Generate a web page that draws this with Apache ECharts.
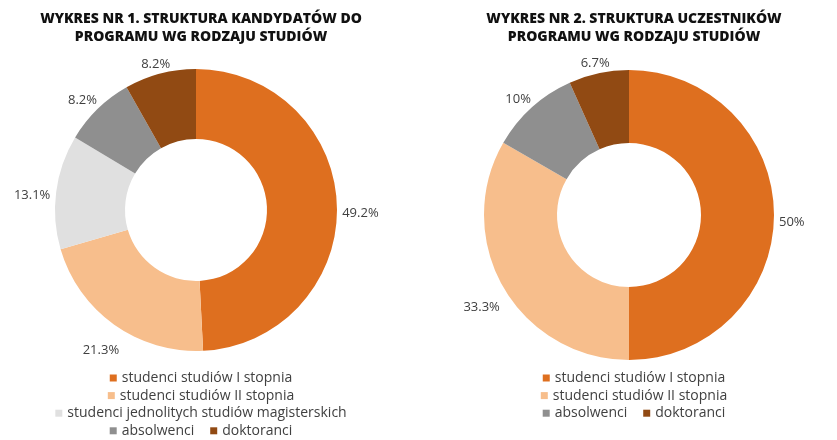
<!DOCTYPE html>
<html>
<head>
<meta charset="utf-8">
<script src="https://cdn.jsdelivr.net/npm/echarts@6/dist/echarts.min.js"></script>
<style>
  body { margin: 0; width: 837px; height: 440px; overflow: hidden; background: #fff; position: relative; }
  #c1 { position: absolute; left: 0; top: 0; width: 402px; height: 440px; }
  #c2 { position: absolute; left: 431px; top: 0; width: 406px; height: 440px; }
</style>
</head>
<body>
<div id="c1"></div>
<div id="c2"></div>
<script>
// wykres 1 - kandydaci
var names1 = ['studenci studiów I stopnia', 'studenci studiów II stopnia', 'studenci jednolitych studiów magisterskich', 'absolwenci', 'doktoranci'];
var values1 = [49.2, 21.3, 13.1, 8.2, 8.2];
var colors1 = ['#DE6F1F', '#F7BE8C', '#E0E0E0', '#8F8F8F', '#914A13'];

// wykres 2 - uczestnicy
var names2 = ['studenci studiów I stopnia', 'studenci studiów II stopnia', 'absolwenci', 'doktoranci'];
var values2 = [50, 33.3, 10, 6.7];
var colors2 = ['#DE6F1F', '#F7BE8C', '#8F8F8F', '#914A13'];

var FONT = '"Open Sans", sans-serif';

function legendRow(data, top) {
  return {
    data: data,
    top: top,
    left: 'center',
    icon: 'rect',
    itemWidth: 7,
    itemHeight: 7,
    itemGap: 16,
    selectedMode: false,
    textStyle: { fontFamily: FONT, fontSize: 14, color: '#404040' }
  };
}

// etykiety jak w Excelu: ramka etykiety tuż za krawędzią pierścienia, w kierunku środka wycinka
function excelLabels(values, center, outerR) {
  var total = values.reduce(function (a, b) { return a + b; }, 0);
  var mids = [], acc = 0;
  values.forEach(function (v) { mids.push((acc + v / 2) / total * Math.PI * 2); acc += v; });
  return function (params) {
    var t = mids[params.dataIndex];
    var dx = Math.sin(t), dy = -Math.cos(t);
    var w = params.labelRect.width;
    var d = outerR + 5 + (w / 2) * Math.abs(dx) + 9 * Math.abs(dy);
    return {
      x: center[0] + dx * d,
      y: center[1] + dy * d + 7,
      align: 'center',
      verticalAlign: 'middle'
    };
  };
}

function pieOption(title, names, values, colors, center, radius, rows) {
  return {
    animation: false,
    title: {
      text: title,
      left: 'center',
      top: 5,
      textStyle: { fontFamily: FONT, fontSize: 14, fontWeight: 800, color: '#111', lineHeight: 18 }
    },
    legend: rows.map(function (r, i) { return legendRow(r, 366 + i * 17.6); }),
    series: [{
      type: 'pie',
      center: center,
      radius: radius,
      startAngle: 90,
      clockwise: true,
      color: colors,
      data: names.map(function (n, i) { return { name: n, value: values[i] }; }),
      label: {
        show: true,
        position: 'outside',
        formatter: '{c}%',
        overflow: 'none',
        fontFamily: FONT,
        fontSize: 13,
        color: '#404040'
      },
      labelLine: { show: false },
      labelLayout: excelLabels(values, center, radius[1]),
      emphasis: { disabled: true }
    }]
  };
}

var chart1 = echarts.init(document.getElementById('c1'));
chart1.setOption(pieOption(
  'WYKRES NR 1. STRUKTURA KANDYDATÓW DO\nPROGRAMU WG RODZAJU STUDIÓW',
  names1, values1, colors1, [196, 210], [71, 141],
  [[names1[0]], [names1[1]], [names1[2]], [names1[3], names1[4]]]
));

var chart2 = echarts.init(document.getElementById('c2'));
chart2.setOption(pieOption(
  'WYKRES NR 2. STRUKTURA UCZESTNIKÓW\nPROGRAMU WG RODZAJU STUDIÓW',
  names2, values2, colors2, [198, 215], [72, 145],
  [[names2[0]], [names2[1]], [names2[2], names2[3]]]
));
</script>
</body>
</html>
